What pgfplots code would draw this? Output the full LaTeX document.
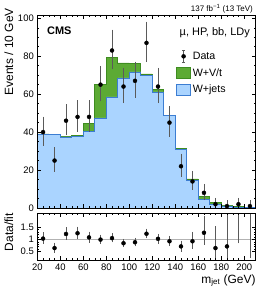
\documentclass[border=0pt]{standalone}
\usepackage{fontspec}
\setmainfont{Liberation Sans}
\usepackage{pgfplots}
\pgfplotsset{compat=1.18}
\definecolor{wvt}{RGB}{92,170,52}
\definecolor{wvtline}{RGB}{62,140,32}
\definecolor{wjets}{RGB}{170,212,255}
\definecolor{wjetsline}{RGB}{60,125,210}
\definecolor{errc}{RGB}{90,90,90}
\begin{document}
\begin{tikzpicture}
\path[use as bounding box] (-37.3bp,-98bp) rectangle (228.7bp,208bp);
\pgfplotsset{
  every axis/.append style={
    scale only axis, width=218.4bp, xmin=20, xmax=210,
    tick align=inside, tick pos=both,
    major tick length=4bp, minor tick length=2bp,
    tick style={black, line width=0.4pt},
    axis line style={line width=0.5pt},
    /pgf/number format/assume math mode=true,
    tick label style={font=\fontsize{9.5}{10}\selectfont},
    label style={font=\fontsize{12}{13}\selectfont},
    xtick={20,40,...,200}, minor x tick num=3,
    axis on top,
  },
}
\begin{axis}[
  at={(0,0)}, anchor=south west, height=193bp,
  ymin=0, ymax=101.7,
  ytick={0,20,...,100}, minor y tick num=3,
  xticklabels={},
  ylabel={Events / 10 GeV},
  ylabel style={at={(axis description cs:-0.111,1.036)}, anchor=base east, inner sep=0pt},
  legend style={at={(rel axis cs:0.633,0.82)}, anchor=north west, draw=none, fill=none,
    font=\fontsize{10.7}{12}\selectfont, row sep=3.6pt, inner sep=0pt},
  legend cell align=left,
]
\addlegendimage{legend image code/.code={
  \draw[errc] (0.27cm,-0.21cm)--(0.27cm,0.21cm);
  \draw[errc] (0.23cm,-0.21cm)--(0.31cm,-0.21cm);
  \draw[errc] (0.23cm,0.21cm)--(0.31cm,0.21cm);
  \fill[black] (0.27cm,0cm) circle (2bp);}}
\addlegendentry{Data}
\addlegendimage{legend image code/.code={
  \draw[fill=wvt, draw=wvtline] (0cm,-5.6bp) rectangle (14.7bp,5.6bp);}}
\addlegendentry{W+V/t}
\addlegendimage{legend image code/.code={
  \draw[fill=wjets, draw=wjetsline] (0cm,-5.6bp) rectangle (14.7bp,5.6bp);}}
\addlegendentry{W+jets}

% total fit (W+jets + W+V/t)
\addplot[const plot, fill=wvt, draw=wvtline, line width=0.6pt, forget plot] table {
x y
20 39.0
30 38.8
40 37.8
50 38.4
60 44.6
70 65.3
80 79.3
90 76.5
100 76.0
110 70.7
120 62.5
130 49.0
140 31.2
150 15.3
160 6.3
170 3.1
180 1.5
190 0.8
200 0.5
210 0.5
} \closedcycle;
% W+jets
\addplot[const plot, fill=wjets, draw=wjetsline, line width=0.6pt, forget plot] table {
x y
20 38.8
30 38.6
40 37.5
50 37.6
60 40.2
70 47.5
80 58.5
90 68.6
100 71.7
110 69.8
120 61.2
130 48.6
140 30.9
150 14.7
160 4.7
170 2.0
180 1.1
190 0.5
200 0.3
210 0.3
} \closedcycle;
% data
\addplot[only marks, mark=*, mark size=2bp, black, forget plot,
  error bars/.cd, y dir=both, y explicit,
  error bar style={errc, line width=0.5pt},
  error mark options={errc, mark size=1.5bp, line width=0.5pt}]
coordinates {
(25,40) += (0,7.4) -= (0,6.3)
(35,25) += (0,6.1) -= (0,5.0)
(45,46) += (0,7.8) -= (0,6.8)
(55,48) += (0,8.0) -= (0,6.9)
(65,48) += (0,8.0) -= (0,6.9)
(75,65) += (0,9.1) -= (0,8.0)
(85,83) += (0,10.2) -= (0,9.1)
(95,64) += (0,9.1) -= (0,8.0)
(105,67) += (0,9.3) -= (0,8.2)
(115,87) += (0,10.4) -= (0,9.3)
(125,64) += (0,9.1) -= (0,8.0)
(135,45) += (0,7.8) -= (0,6.7)
(145,22) += (0,5.8) -= (0,4.7)
(155,14) += (0,4.8) -= (0,3.7)
(165,8) += (0,3.95) -= (0,2.8)
(175,2) += (0,2.6) -= (0,1.3)
(185,1) += (0,2.3) -= (0,0.83)
(195,2) += (0,2.6) -= (0,1.3)
(205,1) += (0,2.3) -= (0,0.83)
};
\end{axis}

\begin{axis}[
  at={(0,-5.3bp)}, anchor=north west, height=46.7bp,
  ymin=0.15, ymax=2.07,
  ytick={0.5,1,1.5}, minor y tick num=4,
  xlabel={m\textsubscript{jet} (GeV)},
  xlabel style={at={(axis description cs:1,0)}, anchor=base east, inner sep=0pt, yshift=-23bp},
  ylabel={Data/fit},
  ylabel style={at={(axis description cs:-0.111,1.006)}, anchor=base east, inner sep=0pt},
]
\addplot[gray!60, line width=0.5pt, forget plot] coordinates {(20,1) (210,1)};
\addplot[only marks, mark=*, mark size=2bp, black,
  error bars/.cd, y dir=both, y explicit,
  error bar style={errc, line width=0.5pt},
  error mark options={errc, mark size=1.5bp, line width=0.5pt}]
coordinates {
(25,1.03) += (0,0.19) -= (0,0.16)
(35,0.64) += (0,0.16) -= (0,0.13)
(45,1.22) += (0,0.21) -= (0,0.18)
(55,1.25) += (0,0.21) -= (0,0.18)
(65,1.08) += (0,0.18) -= (0,0.15)
(75,0.99) += (0,0.14) -= (0,0.12)
(85,1.05) += (0,0.13) -= (0,0.11)
(95,0.84) += (0,0.12) -= (0,0.10)
(105,0.88) += (0,0.12) -= (0,0.11)
(115,1.23) += (0,0.15) -= (0,0.13)
(125,1.02) += (0,0.14) -= (0,0.13)
(135,0.92) += (0,0.16) -= (0,0.14)
(145,0.71) += (0,0.18) -= (0,0.15)
(155,0.92) += (0,0.32) -= (0,0.24)
(165,1.27) += (0,0.63) -= (0,0.44)
(175,0.64) += (0,0.83) -= (0,0.41)
(185,0.71) += (0,1.64) -= (0,0.59)
(195,2.5) += (0,3.3) -= (0,1.6)
(205,2.3) += (0,5.1) -= (0,2.0)
};
\end{axis}

\node[anchor=base west, inner sep=0pt, font=\bfseries\fontsize{11}{12}\selectfont] at (9.7bp,173bp) {CMS};
\node[anchor=base east, inner sep=0pt, font=\fontsize{11}{12}\selectfont] at (212.7bp,172bp) {µ, HP, bb, LDy};
\node[anchor=base east, inner sep=0pt, font=\fontsize{8}{9}\selectfont] at (215.7bp,196.5bp) {137 fb\textsuperscript{−1} (13 TeV)};
\end{tikzpicture}
\end{document}
